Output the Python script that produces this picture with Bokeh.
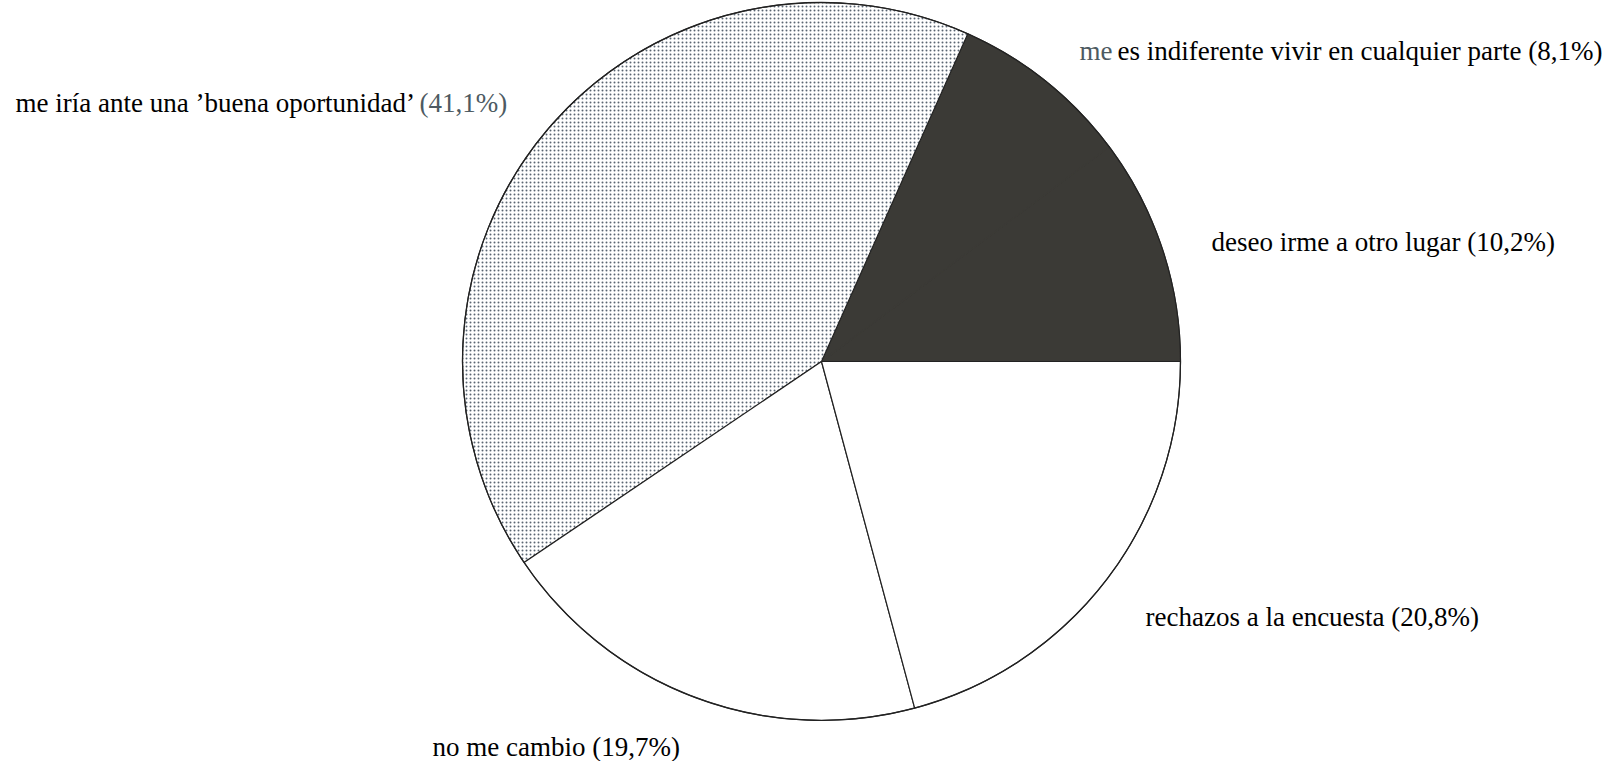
import numpy as np
from bokeh.plotting import figure
from bokeh.models import ColumnDataSource, Range1d
from bokeh.core.properties import value
from bokeh.embed import file_html
from bokeh.resources import INLINE

# ---- data (counter-clockwise from 3 o'clock) ----
categories = [
    "deseo irme a otro lugar",
    "me es indiferente vivir en cualquier parte",
    "me iría ante una ’buena oportunidad’",
    "no me cambio",
    "rechazos a la encuesta",
]
values = [10.2, 8.1, 41.1, 19.7, 20.8]

# ---- styles ----
fills = ["#3b3a36", "#3b3a36", "#ffffff", "#ffffff", "#ffffff"]
hatches = [" ", " ", "dot", " ", " "]
DARK_TXT = "#000000"
GRAY_TXT = "#4d5a62"
FONT = value("Liberation Serif")
FSIZE = "27px"

W, H = 1622, 761
cx, cy, R = 821, 400, 359

vals = np.array(values, dtype=float)
frac = vals / vals.sum()
ends = np.cumsum(frac) * 2 * np.pi
starts = np.concatenate([[0.0], ends[:-1]])

src = ColumnDataSource(dict(
    start=starts, end=ends, fill=fills, hatch=hatches,
    line=["#3b3a36", "#3b3a36", "#222222", "#222222", "#222222"],
))

p = figure(width=W, height=H, output_backend="svg", toolbar_location=None,
           x_range=Range1d(0, W), y_range=Range1d(0, H), min_border=0)
p.axis.visible = False
p.grid.visible = False
p.outline_line_color = None
p.background_fill_color = "white"
p.border_fill_color = "white"

p.wedge(x=cx, y=cy, radius=R, start_angle="start", end_angle="end",
        fill_color="fill", line_color="line", line_width=1.2,
        hatch_pattern="hatch", hatch_color="#5a6572", hatch_scale=4,
        hatch_weight=1.9, source=src)
# outer rim
p.circle(x=[cx], y=[cy], radius=R, fill_color=None, line_color="#222222", line_width=1.2)

def pct(v):
    return "(" + f"{v:.1f}".replace(".", ",") + "%)"

# label segments: (x, y, text, color)
seg_x, seg_y, seg_t, seg_c = [], [], [], []
def add(x, y, t, c):
    seg_x.append(x); seg_y.append(y + 5); seg_t.append(t); seg_c.append(c)

# deseo
add(1211, 515, f"{categories[0]} {pct(values[0])}", DARK_TXT)
# indiferente: first word gray
first, rest = categories[1].split(" ", 1)
add(1079, 706, first, GRAY_TXT)
add(1117, 706, f"{rest} {pct(values[1])}", DARK_TXT)
# buena oportunidad: percentage gray
add(15, 654, categories[2], DARK_TXT)
add(419, 654, pct(values[2]), GRAY_TXT)
# no me cambio
add(432, 10, f"{categories[3]} {pct(values[3])}", DARK_TXT)
# rechazos
add(1145, 140, f"{categories[4]} {pct(values[4])}", DARK_TXT)

tsrc = ColumnDataSource(dict(x=seg_x, y=seg_y, text=seg_t, color=seg_c))
p.text(x="x", y="y", text="text", text_color="color", source=tsrc,
       text_font=FONT, text_font_size=FSIZE, text_align="left",
       text_baseline="alphabetic")

open("out.html", "w").write(file_html(p, INLINE))
